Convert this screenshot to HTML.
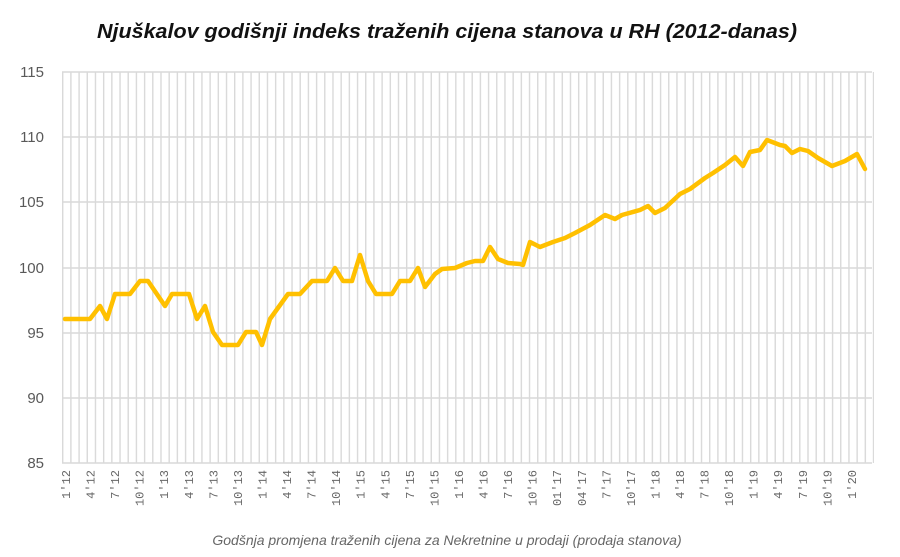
<!DOCTYPE html>
<html><head><meta charset="utf-8"><style>
body{margin:0;background:#fff;}
svg{display:block;}
</style></head><body>
<svg width="900" height="557" xmlns="http://www.w3.org/2000/svg" font-family="Liberation Sans, sans-serif">
<defs>
<pattern id="vg" x="62" y="0" width="8.19" height="10" patternUnits="userSpaceOnUse">
<rect x="0" y="0" width="1.4" height="10" fill="#d9d9d9"/>
</pattern>
</defs>
<text x="447" y="38" text-anchor="middle" font-size="20" font-weight="bold" font-style="italic" fill="#111" textLength="700" lengthAdjust="spacingAndGlyphs">Njuškalov godišnji indeks traženih cijena stanova u RH (2012-danas)</text>
<rect x="62" y="72" width="812" height="391" fill="url(#vg)"/>
<g stroke="#d9d9d9" stroke-width="1.5">
<line x1="62" x2="872" y1="72" y2="72"/>
<line x1="62" x2="872" y1="137" y2="137"/>
<line x1="62" x2="872" y1="202" y2="202"/>
<line x1="62" x2="872" y1="268" y2="268"/>
<line x1="62" x2="872" y1="333" y2="333"/>
<line x1="62" x2="872" y1="398" y2="398"/>
<line x1="62" x2="872" y1="463" y2="463"/>
</g>
<g font-size="15" fill="#595959" text-anchor="end">
<text x="44" y="77">115</text><text x="44" y="142">110</text><text x="44" y="207">105</text>
<text x="44" y="273">100</text><text x="44" y="338">95</text><text x="44" y="403">90</text><text x="44" y="468">85</text>
</g>
<g font-size="12" fill="#666" font-family="Liberation Mono, monospace" text-anchor="end">
<text transform="translate(70,470) rotate(-90)">1'12</text>
<text transform="translate(94.6,470) rotate(-90)">4'12</text>
<text transform="translate(119.1,470) rotate(-90)">7'12</text>
<text transform="translate(143.7,470) rotate(-90)">10'12</text>
<text transform="translate(168.2,470) rotate(-90)">1'13</text>
<text transform="translate(192.8,470) rotate(-90)">4'13</text>
<text transform="translate(217.4,470) rotate(-90)">7'13</text>
<text transform="translate(241.9,470) rotate(-90)">10'13</text>
<text transform="translate(266.5,470) rotate(-90)">1'14</text>
<text transform="translate(291,470) rotate(-90)">4'14</text>
<text transform="translate(315.6,470) rotate(-90)">7'14</text>
<text transform="translate(340.2,470) rotate(-90)">10'14</text>
<text transform="translate(364.7,470) rotate(-90)">1'15</text>
<text transform="translate(389.3,470) rotate(-90)">4'15</text>
<text transform="translate(413.8,470) rotate(-90)">7'15</text>
<text transform="translate(438.4,470) rotate(-90)">10'15</text>
<text transform="translate(463,470) rotate(-90)">1'16</text>
<text transform="translate(487.5,470) rotate(-90)">4'16</text>
<text transform="translate(512.1,470) rotate(-90)">7'16</text>
<text transform="translate(536.6,470) rotate(-90)">10'16</text>
<text transform="translate(561.2,470) rotate(-90)">01'17</text>
<text transform="translate(585.8,470) rotate(-90)">04'17</text>
<text transform="translate(610.3,470) rotate(-90)">7'17</text>
<text transform="translate(634.9,470) rotate(-90)">10'17</text>
<text transform="translate(659.4,470) rotate(-90)">1'18</text>
<text transform="translate(684,470) rotate(-90)">4'18</text>
<text transform="translate(708.6,470) rotate(-90)">7'18</text>
<text transform="translate(733.1,470) rotate(-90)">10'18</text>
<text transform="translate(757.7,470) rotate(-90)">1'19</text>
<text transform="translate(782.2,470) rotate(-90)">4'19</text>
<text transform="translate(806.8,470) rotate(-90)">7'19</text>
<text transform="translate(831.4,470) rotate(-90)">10'19</text>
<text transform="translate(855.9,470) rotate(-90)">1'20</text>
</g>
<polyline fill="none" stroke="#FFC000" stroke-width="4.5" stroke-linejoin="round" stroke-linecap="round" points="65,319 90,319 100,306 107,319 115,294 130,294 140,281 148,281 165,306 172,294 189,294 197,319 205,306 213,332 222,345 238,345 246,332 256,332 262,345 270,319 288,294 300,294 312,281 327,281 335,268 343,281 352,281 360,255 368,281 376,294 392,294 400,281 410,281 418,268 425,287 435,274 442,269 455,268 467,263 475,261 483,261 490,247 498,259 508,263 520,264 523,265 530,242 540,247 553,242 565,238 575,233 590,225 605,215 615,219 622,215 640,210 648,206 655,213 665,208 680,194 690,189 705,178 713,173 725,165 735,157 743,166 750,152 760,150 767,140 780,145 785,146 792,153 800,149 808,151 818,158 832,166 845,161 857,154 865,169"/>
<text x="447" y="545" text-anchor="middle" font-size="14" font-style="italic" fill="#666">Godšnja promjena traženih cijena za Nekretnine u prodaji (prodaja stanova)</text>
</svg>
</body></html>
